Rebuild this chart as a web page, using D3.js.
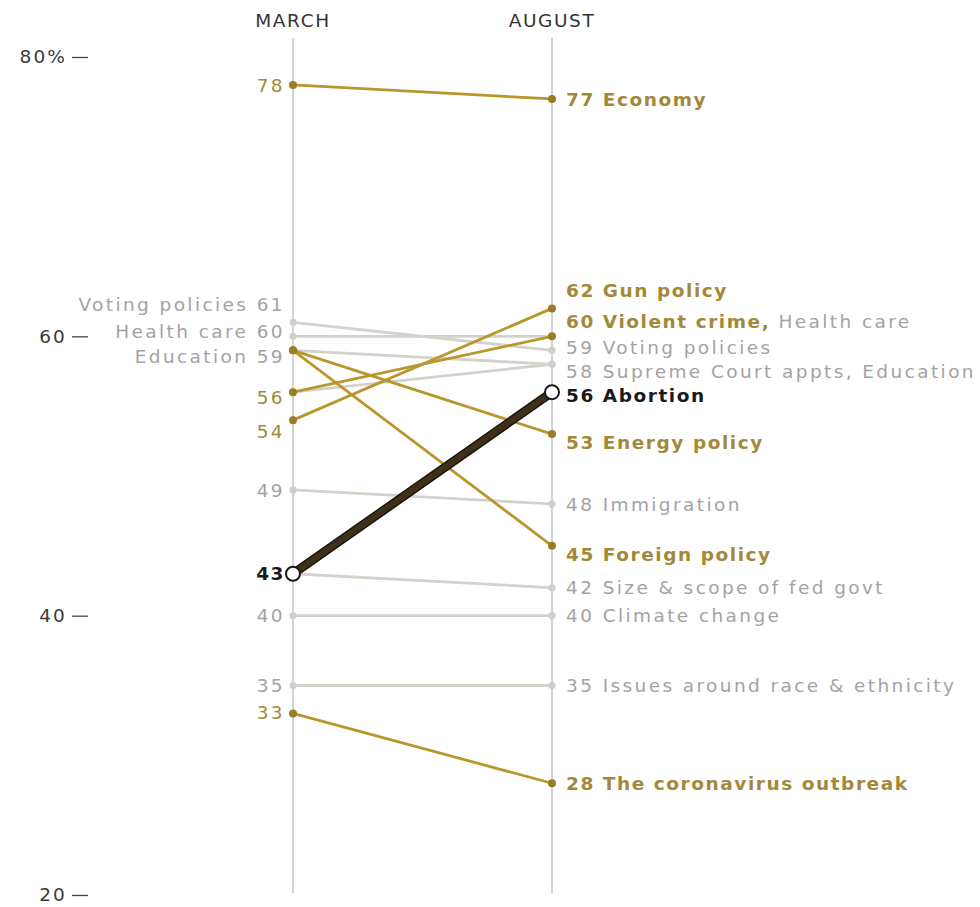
<!DOCTYPE html>
<html>
<head>
<meta charset="utf-8">
<script src="https://cdn.jsdelivr.net/npm/d3@7"></script>
<style>
  html, body { margin: 0; padding: 0; background: #fff; }
  svg { display: block; }
</style>
</head>
<body>
<div id="chart"></div>
<script>
// ---------------- DATA ----------------
const issues = ["Economy", "Gun policy", "Violent crime", "Health care", "Voting policies",
  "Supreme Court appts", "Education", "Abortion", "Energy policy", "Immigration",
  "Foreign policy", "Size & scope of fed govt", "Climate change",
  "Issues around race & ethnicity", "The coronavirus outbreak"];
const march  = [78, 54, 56, 60, 61, 56, 59, 43, 59, 49, 59, 43, 40, 35, 33];
const august = [77, 62, 60, 60, 59, 58, 58, 56, 53, 48, 45, 42, 40, 35, 28];
const emphasis = ["gold", "gold", "gold", "gray", "gray", "gray", "gray", "focus", "gold",
  "gray", "gold", "gray", "gray", "gray", "gold"];
const periods = ["MARCH", "AUGUST"];
const yTicks = [20, 40, 60, 80];
const leftNamed = ["Voting policies", "Health care", "Education"];
const leftHidden = ["Supreme Court appts", "Energy policy", "Foreign policy", "Size & scope of fed govt"];

// ---------------- LAYOUT / STYLE ----------------
const W = 980, H = 907;
const FONT = "'DejaVu Sans', Verdana, sans-serif";
const FS = "18.5px";
const LS_REG = "2.4px", LS_BOLD = "1.55px";
const nudgeLeft = {"Voting policies": -18, "Health care": -5, "Education": 6, "Violent crime": 5, "Gun policy": 11, "The coronavirus outbreak": -1};
const nudgeRight = {"Gun policy": -18, "Violent crime": -15, "Voting policies": -3, "Supreme Court appts": 7,
  "Abortion": 3, "Energy policy": 8, "Foreign policy": 9};
const colors = {
  gold:  {line: "#b9972c", dot: "#9a7d25", text: "#a4883a", width: 2.8},
  gray:  {line: "#d3d3cb", dot: "#cfcfca", text: "#a3a3a3", width: 2.8},
  focus: {line: "#3e3019", dot: "#222", text: "#1a1a1a", width: 7}
};

const data = issues.map((name, i) => ({name, march: march[i], august: august[i], kind: emphasis[i]}));

const svg = d3.select("#chart").append("svg").attr("width", W).attr("height", H)
  .style("font-family", FONT).style("letter-spacing", LS_REG);

const x = d3.scalePoint().domain(periods).range([293, 552]);
const y = d3.scaleLinear().domain([20, 80]).range([895, 57]);

// y axis
const yAxis = d3.axisLeft(y).tickValues(yTicks)
  .tickFormat(d => d === 80 ? d + "%" : d).tickSize(16).tickPadding(5);
const ga = svg.append("g").attr("transform", "translate(88,0)").call(yAxis);
ga.select(".domain").remove();
ga.selectAll(".tick line").attr("stroke", "#444").attr("stroke-width", 1.3);
ga.selectAll(".tick text").attr("fill", "#3a3a3a").style("font-size", FS)
  .style("font-family", FONT).style("letter-spacing", "2.1px");

// column rules and headers
periods.forEach(p => {
  svg.append("line").attr("x1", x(p)).attr("x2", x(p)).attr("y1", 38).attr("y2", 893)
    .attr("stroke", "#c4c4c4").attr("stroke-width", 1.5);
  svg.append("text").attr("x", x(p)).attr("y", 27).attr("text-anchor", "middle")
    .attr("fill", "#333").style("font-size", "18.5px").style("letter-spacing", "1.6px").text(p);
});

// lines, in drawing order gray -> gold -> focus
const order = ["gray", "gold", "focus"];
order.forEach(kind => {
  const sub = data.filter(d => d.kind === kind);
  const c = colors[kind];
  if (kind === "focus") {
    svg.selectAll(null).data(sub).enter().append("line")
      .attr("x1", x(periods[0])).attr("y1", d => y(d.march))
      .attr("x2", x(periods[1])).attr("y2", d => y(d.august))
      .attr("stroke", "#1c160c").attr("stroke-width", 9);
  }
  svg.selectAll(null).data(sub).enter().append("line")
    .attr("x1", x(periods[0])).attr("y1", d => y(d.march))
    .attr("x2", x(periods[1])).attr("y2", d => y(d.august))
    .attr("stroke", c.line).attr("stroke-width", kind === "focus" ? 6 : c.width)
    .attr("stroke-linecap", "round");
  // dots
  ["march", "august"].forEach((k, j) => {
    svg.selectAll(null).data(sub).enter().append("circle")
      .attr("cx", x(periods[j])).attr("cy", d => y(d[k]))
      .attr("r", kind === "focus" ? 7 : (kind === "gold" ? 4 : 3.6))
      .attr("fill", kind === "focus" ? "#fff" : c.dot)
      .attr("stroke", kind === "focus" ? "#1a1a1a" : "none")
      .attr("stroke-width", 2);
  });
});

// left labels
data.filter(d => !leftHidden.includes(d.name)).forEach(d => {
  const c = colors[d.kind];
  const named = leftNamed.includes(d.name);
  const bold = d.kind === "focus";
  svg.append("text")
    .attr("x", x(periods[0]) - 8)
    .attr("y", y(d.march) + (nudgeLeft[d.name] || 0))
    .attr("dy", "0.36em").attr("text-anchor", "end")
    .attr("fill", c.text)
    .style("font-size", FS)
    .style("font-weight", bold ? "bold" : "normal")
    .style("letter-spacing", bold ? LS_BOLD : LS_REG)
    .text(named ? d.name + " " + d.march : d.march);
});

// right labels grouped by August value
const groups = d3.groups(data, d => d.august);
groups.forEach(([val, items]) => {
  items.sort((a, b) => (a.kind === "gray") - (b.kind === "gray"));
  const first = items[0];
  const t = svg.append("text")
    .attr("x", x(periods[1]) + 14)
    .attr("y", y(val) + (nudgeRight[first.name] || 0))
    .attr("dy", "0.36em")
    .style("font-size", FS);
  const isBold = k => k !== "gray";
  t.append("tspan").attr("fill", colors[first.kind].text)
    .style("font-weight", isBold(first.kind) ? "bold" : "normal")
    .style("letter-spacing", isBold(first.kind) ? LS_BOLD : LS_REG)
    .text(val + " ");
  items.forEach((d, i) => {
    t.append("tspan").attr("fill", colors[d.kind].text)
      .style("font-weight", isBold(d.kind) ? "bold" : "normal")
      .style("letter-spacing", isBold(d.kind) ? LS_BOLD : LS_REG)
      .text(d.name + (i < items.length - 1 ? "," : ""));
    if (i < items.length - 1) t.append("tspan").text(" ");
  });
});
</script>
</body>
</html>
